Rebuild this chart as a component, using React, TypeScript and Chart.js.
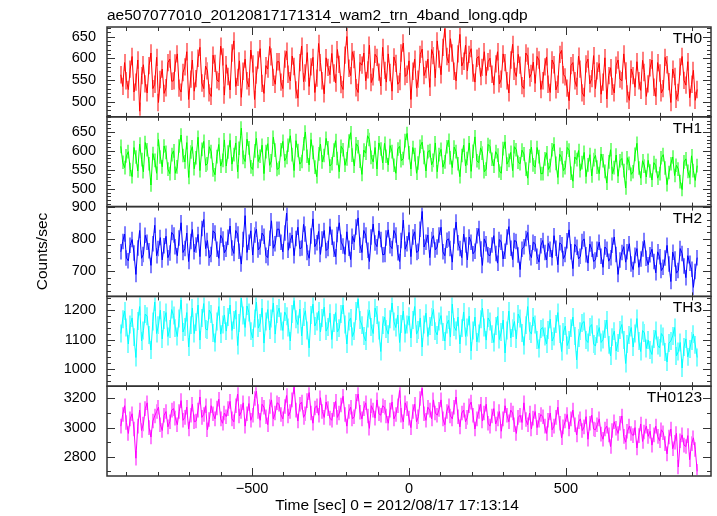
import React, { useEffect, useRef } from "react";
import { Chart, registerables } from "chart.js";

Chart.register(...registerables);

const titleText = "ae507077010_20120817171314_wam2_trn_4band_long.qdp";
const xTitle = "Time [sec] 0 = 2012/08/17 17:13:14";
const yTitle = "Counts/sec";

const times = [
  -918,-912,-906,-900,-894,-888,-882,-876,-870,-864,-858,-852,-846,-840,-834,-828,-822,-816,-810,-804,-798,-792,-786,-780,-774,-768,-762,-756,
  -750,-744,-738,-732,-726,-720,-714,-708,-702,-696,-690,-684,-678,-672,-666,-660,-654,-648,-642,-636,-630,-624,-618,-612,-606,-600,-594,-588,
  -582,-576,-570,-564,-558,-552,-546,-540,-534,-528,-522,-516,-510,-504,-498,-492,-486,-480,-474,-468,-462,-456,-450,-444,-438,-432,-426,-420,
  -414,-408,-402,-396,-390,-384,-378,-372,-366,-360,-354,-348,-342,-336,-330,-324,-318,-312,-306,-300,-294,-288,-282,-276,-270,-264,-258,-252,
  -246,-240,-234,-228,-222,-216,-210,-204,-198,-192,-186,-180,-174,-168,-162,-156,-150,-144,-138,-132,-126,-120,-114,-108,-102,-96,-90,-84,
  -78,-72,-66,-60,-54,-48,-42,-36,-30,-24,-18,-12,-6,0,6,12,18,24,30,36,42,48,54,60,66,72,78,84,
  90,96,102,108,114,120,126,132,138,144,150,156,162,168,174,180,186,192,198,204,210,216,222,228,234,240,246,252,
  258,264,270,276,282,288,294,300,306,312,318,324,330,336,342,348,354,360,366,372,378,384,390,396,402,408,414,420,
  426,432,438,444,450,456,462,468,474,480,486,492,498,504,510,516,522,528,534,540,546,552,558,564,570,576,582,588,
  594,600,606,612,618,624,630,636,642,648,654,660,666,672,678,684,690,696,702,708,714,720,726,732,738,744,750,756,
  762,768,774,780,786,792,798,804,810,816,822,828,834,840,846,852,858,864,870,876,882,888,894,900,906,912,918,
];

const th0 = [
  562,535,590,548,528,575,604,522,545,596,478,560,585,541,520,583,612,530,540,602,498,551,575,519,532,590,598,547,
  548,589,610,531,522,567,580,615,505,552,596,524,553,600,625,543,530,582,571,520,512,607,588,550,546,628,603,515,
  585,558,527,612,640,535,556,594,510,570,598,548,534,619,587,505,561,596,622,542,519,583,575,627,603,556,540,592,
  592,545,530,598,616,563,548,605,581,527,508,590,628,546,566,613,535,580,602,521,554,634,590,548,518,601,579,562,
  611,566,543,620,586,539,528,607,650,577,560,615,597,532,521,590,584,612,548,573,630,544,557,609,602,568,536,625,
  572,545,610,567,524,603,588,540,546,612,635,558,563,594,505,570,598,531,552,609,621,560,574,598,533,620,606,555,
  640,598,562,625,668,604,589,645,612,570,548,610,655,582,593,630,571,609,622,566,545,600,604,558,579,615,560,592,
  600,563,538,587,615,541,552,610,590,548,520,596,632,570,558,609,584,537,530,612,605,555,565,591,542,604,596,528,
  548,580,603,540,521,596,585,527,540,609,618,562,557,531,502,583,590,548,535,605,575,520,512,587,598,541,553,606,
  530,571,588,517,545,601,506,560,578,535,520,584,596,552,548,610,571,518,503,575,560,533,592,548,526,595,567,512,
  541,578,596,533,512,590,566,520,530,602,585,546,498,575,558,505,521,580,604,549,538,592,509,540,572,503,528,
];

const th1 = [
  612,570,556,587,598,551,532,609,584,547,618,577,545,622,603,566,510,593,575,541,630,584,558,613,596,552,540,590,
  600,541,558,613,642,588,571,622,530,597,611,553,582,636,548,604,625,562,566,611,598,550,537,585,617,560,575,629,
  560,597,628,565,590,621,545,607,660,583,572,631,608,558,551,600,633,572,586,615,540,598,619,562,574,636,602,551,
  555,603,625,574,583,615,640,590,548,627,601,565,572,619,650,586,563,630,596,557,532,592,618,571,588,633,608,560,
  566,602,627,580,545,612,603,562,579,626,648,589,560,619,611,573,538,602,594,640,630,583,571,609,552,621,605,568,
  620,586,563,614,598,562,541,605,612,574,580,627,646,595,552,609,590,541,568,612,623,583,547,598,601,563,575,621,
  545,590,604,557,571,611,628,582,556,610,598,566,532,588,615,560,580,621,546,599,637,574,569,608,594,545,552,617,
  612,578,560,598,589,547,541,606,624,565,575,596,548,611,603,570,566,602,592,552,528,587,610,563,557,609,585,540,
  540,579,595,551,561,603,618,567,530,591,582,548,556,609,602,541,520,584,577,601,548,569,596,532,563,590,534,577,
  588,557,540,592,574,546,515,571,603,540,556,589,533,574,580,548,502,582,567,538,545,591,620,555,528,574,560,531,
  575,547,523,569,561,528,540,582,590,555,511,543,566,584,535,562,552,519,498,571,579,546,530,587,548,522,561,
];

const th2 = [
  760,792,815,741,732,780,798,756,690,772,826,740,752,811,790,763,718,785,842,748,770,804,735,779,808,742,756,820,
  812,776,748,803,850,758,770,818,730,792,829,760,781,814,745,832,860,770,795,741,752,825,818,768,740,811,800,757,
  768,805,840,772,755,826,815,762,722,798,872,758,790,825,750,812,830,766,775,818,808,749,742,802,856,771,785,830,
  830,790,760,818,880,765,795,812,748,801,836,770,772,845,815,758,740,809,862,776,788,823,752,800,826,764,770,838,
  805,768,745,814,850,790,778,752,822,771,736,808,790,837,865,780,758,826,812,765,730,806,846,787,776,825,798,751,
  752,803,828,779,770,826,812,757,730,795,858,768,785,820,745,806,822,758,762,830,885,775,790,812,742,798,810,766,
  775,812,836,760,748,796,800,770,728,809,852,788,770,742,815,781,735,806,790,754,762,810,832,769,718,800,785,751,
  748,781,810,755,725,798,790,738,762,806,838,771,736,795,792,750,705,768,776,801,820,757,742,790,785,746,728,779,
  795,758,735,786,768,742,810,771,720,788,782,739,752,794,828,760,708,783,774,738,746,792,800,751,725,784,768,730,
  735,768,790,746,712,775,768,731,742,780,806,752,690,735,758,776,728,760,785,722,705,749,770,712,738,769,795,740,
  720,751,768,730,695,760,745,702,712,741,780,722,668,759,738,694,702,770,755,716,680,748,725,706,650,699,742,
];

const th3 = [
  1120,1168,1195,1140,1085,1150,1172,1108,1040,1162,1210,1095,1130,1185,1178,1115,1065,1160,1225,1120,1148,1198,1102,1165,1190,1110,1135,1200,
  1180,1138,1110,1170,1232,1125,1142,1190,1075,1148,1205,1120,1158,1215,1098,1172,1220,1135,1132,1198,1185,1122,1090,1160,1210,1118,1150,1182,
  1128,1175,1215,1130,1165,1198,1080,1155,1238,1180,1140,1212,1190,1128,1105,1170,1225,1138,1155,1205,1088,1160,1200,1132,1170,1222,1118,1185,
  1205,1160,1130,1192,1178,1140,1095,1185,1230,1168,1150,1202,1112,1175,1196,1130,1072,1182,1218,1145,1160,1195,1125,1172,1208,1128,1142,1188,
  1100,1155,1190,1125,1138,1185,1215,1150,1085,1160,1172,1110,1128,1195,1235,1165,1148,1112,1095,1170,1198,1142,1120,1205,1182,1130,1060,1148,
  1175,1135,1118,1168,1222,1160,1140,1182,1090,1152,1195,1120,1150,1178,1105,1165,1210,1118,1132,1172,1075,1150,1188,1110,1145,1175,1200,1128,
  1115,1160,1180,1125,1095,1150,1165,1108,1218,1142,1130,1175,1085,1138,1192,1110,1140,1178,1062,1130,1175,1092,1120,1168,1205,1140,1098,1172,
  1160,1118,1090,1145,1178,1100,1125,1165,1055,1130,1195,1105,1138,1160,1102,1185,1170,1122,1080,1148,1210,1128,1118,1175,1150,1098,1070,1135,
  1140,1110,1085,1132,1168,1095,1110,1152,1190,1118,1060,1125,1145,1080,1098,1138,1175,1112,1032,1105,1128,1155,1160,1098,1090,1142,1150,1085,
  1078,1118,1140,1090,1100,1135,1165,1082,1045,1108,1128,1062,1088,1132,1150,1098,1020,1085,1115,1140,1075,1120,1170,1095,1060,1130,1122,1070,
  1098,1065,1050,1102,1130,1080,1072,1120,1110,1058,1025,1088,1095,1112,1140,1045,1060,1090,1005,1075,1102,1042,1068,1095,1118,1082,1040,
];

const th0123 = [
  3010,3090,3150,3035,2960,3060,3095,2990,2790,3010,3120,2980,3025,3130,3170,3000,2935,3045,3080,3110,3140,3020,2980,3085,3110,3005,3040,3120,
  3130,3065,3020,3110,3185,3050,3070,3140,2990,3085,3160,3040,3045,3120,3210,3070,3090,3150,2985,3055,3150,3095,3060,3135,3195,3060,3030,3100,
  3075,3130,3180,3060,3040,3150,3230,3080,3110,3170,3010,3095,3165,3050,3085,3200,3250,3110,3050,3160,3140,3075,3020,3145,3190,3060,3100,3170,
  3160,3090,3060,3145,3220,3080,3110,3190,3280,3120,3045,3160,3175,3070,3095,3185,3240,3100,3030,3135,3150,3085,3205,3110,3070,3175,3130,3065,
  3050,3125,3180,3070,3100,3155,3215,3090,3010,3110,3140,3060,3075,3180,3230,3105,3060,3130,3170,3080,2995,3150,3120,3065,3190,3095,3085,3150,
  3140,3080,3030,3120,3175,3060,3090,3150,3255,3085,3040,3170,3130,3065,3000,3110,3160,3040,3075,3200,3270,3095,3050,3140,3120,3060,3190,3100,
  3085,3125,3190,3060,3020,3110,3150,3080,3060,3140,3210,3075,3005,3100,3120,3040,3070,3150,3175,3085,2990,3060,3110,3160,3045,3100,3160,3030,
  3010,3080,3130,3025,3060,3110,2975,3060,3150,3085,3040,3120,3100,3020,2960,3070,3085,3035,3170,3055,3020,3100,2990,3065,3110,3000,3050,3090,
  3075,3010,2960,3050,3100,2985,3010,3070,3140,3030,2930,3005,3045,3090,2990,3060,3120,3020,2950,3040,3060,2980,3005,3075,2920,3030,3085,2990,
  2985,3020,3060,2955,2920,2990,3010,2950,2870,2980,3040,2995,2960,3030,3080,2940,2900,2975,3010,2960,2945,3000,2860,2945,3025,2905,2970,3010,
  2940,2975,2880,2950,3010,2940,2910,2985,2965,2890,2820,2935,2990,2855,2900,2960,2730,2910,2950,2880,2870,2945,2780,2890,2930,2850,2700,
];

const panelNames = ["TH0", "TH1", "TH2", "TH3", "TH0123"];
const panelSeries = [th0, th1, th2, th3, th0123];
const panelErrors = [20, 18, 24, 30, 50];
const panelColors = ["#ff0000", "#00ff00", "#0000ff", "#00ffff", "#ff00ff"];
const panelErrColors = [
  "rgba(255,0,0,0.5)",
  "rgba(0,255,0,0.5)",
  "rgba(0,0,255,0.5)",
  "rgba(0,255,255,0.5)",
  "rgba(255,0,255,0.5)",
];
const panelMin = [465, 453, 622, 944, 2668];
const panelMax = [672, 690, 900, 1244, 3284];
const panelTicks = [
  [500, 550, 600, 650],
  [500, 550, 600, 650],
  [700, 800, 900],
  [1000, 1100, 1200],
  [2800, 3000, 3200],
];
const panelMinorStep = [10, 10, 20, 20, 100];

const xMin = -962;
const xMax = 962;
const xTickValues = [-500, 0, 500];
const xTickLabels = ["\u2212500", "0", "500"];
const xMinorStep = 100;

const FONT = "'Liberation Sans', Arial, Helvetica, sans-serif";
const FRAME = "#333333";

const decorPlugin = {
  id: "qdpDecor",
  beforeDatasetDraw(chart: any, args: any) {
    const ds: any = chart.data.datasets[args.index];
    const meta = args.meta;
    const ys = chart.scales[ds.yAxisID];
    const err = ds.errValue;
    const ctx = chart.ctx;
    ctx.save();
    ctx.lineWidth = 2;
    ctx.strokeStyle = ds.errColor;
    ctx.beginPath();
    meta.data.forEach((el: any, i: number) => {
      const v = ds.data[i].y;
      const y1 = Math.max(ys.top + 1, ys.getPixelForValue(v + err));
      const y2 = Math.min(ys.bottom - 1, ys.getPixelForValue(v - err));
      const x = Math.round(el.x);
      ctx.moveTo(x, y1);
      ctx.lineTo(x, y2);
    });
    ctx.stroke();
    ctx.restore();
  },
  afterDraw(chart: any) {
    const ctx = chart.ctx;
    const area = chart.chartArea;
    const xs = chart.scales.x;
    ctx.save();
    ctx.strokeStyle = FRAME;
    ctx.lineWidth = 1;
    for (let p = 0; p < panelNames.length; p++) {
      const ys = chart.scales["y" + p];
      const top = ys.top;
      const bottom = ys.bottom;
      ctx.beginPath();
      const step = panelMinorStep[p];
      const start = Math.ceil(panelMin[p] / step) * step;
      for (let v = start; v <= panelMax[p]; v += step) {
        const y = Math.round(ys.getPixelForValue(v)) + 0.5;
        const major = panelTicks[p].includes(v);
        const len = major ? 8 : 4;
        ctx.moveTo(area.left, y);
        ctx.lineTo(area.left + len, y);
        ctx.moveTo(area.right, y);
        ctx.lineTo(area.right - len, y);
      }
      const xs0 = Math.ceil(xMin / xMinorStep) * xMinorStep;
      for (let v = xs0; v <= xMax; v += xMinorStep) {
        const x = Math.round(xs.getPixelForValue(v)) + 0.5;
        const major = xTickValues.includes(v);
        const len = major ? 8 : 4;
        ctx.moveTo(x, top);
        ctx.lineTo(x, top + len);
        ctx.moveTo(x, bottom);
        ctx.lineTo(x, bottom - len);
      }
      ctx.stroke();
    }
    ctx.lineWidth = 1.5;
    ctx.strokeStyle = FRAME;
    for (let p = 0; p < panelNames.length; p++) {
      const ys = chart.scales["y" + p];
      ctx.strokeRect(area.left, ys.top, area.right - area.left, ys.bottom - ys.top);
    }
    ctx.fillStyle = "#000";
    ctx.font = "15.5px " + FONT;
    ctx.textBaseline = "alphabetic";
    ctx.textAlign = "right";
    for (let p = 0; p < panelNames.length; p++) {
      const ys = chart.scales["y" + p];
      ctx.fillText(panelNames[p], area.right - 9, ys.top + 16);
    }
    ctx.textAlign = "left";
    ctx.fillText(titleText, area.left, 20);
    ctx.textAlign = "center";
    ctx.fillText(xTitle, 397, 510);
    ctx.save();
    ctx.translate(47, (area.top + area.bottom) / 2);
    ctx.rotate(-Math.PI / 2);
    ctx.textAlign = "center";
    ctx.fillText(yTitle, 0, 0);
    ctx.restore();
    ctx.restore();
  },
};

export default function App() {
  const ref = useRef<HTMLCanvasElement | null>(null);
  useEffect(() => {
    if (!ref.current) return;
    Chart.defaults.font.family = FONT;
    const datasets = panelNames.map((name, p) => ({
      label: name,
      data: times.map((t, i) => ({ x: t, y: panelSeries[p][i] })),
      yAxisID: "y" + p,
      borderColor: panelColors[p],
      backgroundColor: panelColors[p],
      borderWidth: 1,
      pointRadius: 0,
      tension: 0,
      fill: false,
      errValue: panelErrors[p],
      errColor: panelErrColors[p],
    }));
    const scales: any = {
      x: {
        type: "linear",
        position: "bottom",
        min: xMin,
        max: xMax,
        grid: { display: false, drawTicks: false },
        border: { display: false },
        afterBuildTicks: (s: any) => {
          s.ticks = xTickValues.map((v) => ({ value: v }));
        },
        afterFit: (s: any) => {
          s.height = 40;
        },
        ticks: {
          autoSkip: false,
          maxRotation: 0,
          padding: 4,
          color: "#000",
          font: { size: 14.5, family: FONT },
          callback: (_v: any, i: number) => xTickLabels[i],
        },
      },
    };
    // defined bottom-to-top so that TH0 ends up at the top of the stack
    for (let p = panelNames.length - 1; p >= 0; p--) {
      scales["y" + p] = {
        type: "linear",
        axis: "y",
        position: "left",
        stack: "panels",
        stackWeight: 1,
        min: panelMin[p],
        max: panelMax[p],
        grid: { display: false, drawTicks: false },
        border: { display: false },
        afterBuildTicks: (s: any) => {
          s.ticks = panelTicks[p].map((v) => ({ value: v }));
        },
        afterFit: (s: any) => {
          s.width = 107;
        },
        ticks: {
          autoSkip: false,
          padding: 11,
          color: "#000",
          font: { size: 14.5, family: FONT },
          callback: (v: any) => String(v),
        },
      };
    }
    const chart = new Chart(ref.current, {
      type: "line",
      data: { datasets: datasets as any },
      options: {
        animation: false,
        responsive: false,
        devicePixelRatio: 1,
        layout: { padding: { left: 0, top: 27, right: 6, bottom: 0 } },
        plugins: {
          legend: { display: false },
          title: { display: false },
          tooltip: { enabled: false },
        },
        scales,
      } as any,
      plugins: [decorPlugin],
    });
    return () => chart.destroy();
  }, []);
  return (
    <div
      style={{
        position: "absolute",
        left: 0,
        top: 0,
        width: 717,
        height: 516,
        background: "#fff",
      }}
    >
      <canvas ref={ref} width={717} height={516} style={{ width: 717, height: 516 }} />
    </div>
  );
}
